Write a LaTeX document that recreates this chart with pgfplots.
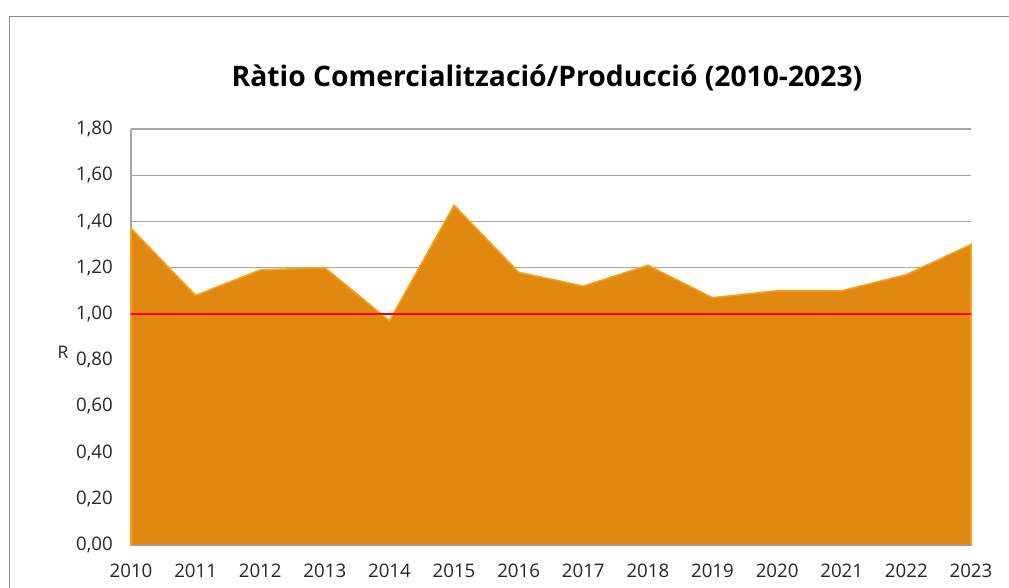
\documentclass[border=0pt]{standalone}
\usepackage{fontspec}
\setmainfont{Open Sans}
\usepackage{pgfplots}
\pgfplotsset{compat=1.18}
\definecolor{areaor}{HTML}{E0880F}
\definecolor{edgeor}{HTML}{F7A21C}
\definecolor{gridg}{HTML}{A6A6A6}
\definecolor{frameg}{HTML}{8C8C8C}
\definecolor{txt}{HTML}{262626}
\begin{document}
\begin{tikzpicture}[x=0.75pt,y=0.75pt]
\useasboundingbox (0,0) rectangle (1009,588);
\draw[frameg, line width=0.9pt] (9.5,-5) -- (9.5,571.5) -- (1015,571.5);
\node[font=\fontsize{21.2}{25}\selectfont\bfseries, text=black] at (547,510) {Ràtio Comercialització/Producció (2010-2023)};
\node[font=\fontsize{13}{15}\selectfont, text=txt] at (63,236) {R};
\begin{axis}[
  at={(98.25pt,32.25pt)}, anchor=south west,
  scale only axis, width=630pt, height=312pt,
  xmin=2010, xmax=2023, ymin=0, ymax=1.8,
  axis x line=bottom, axis y line=left,
  axis line style={-, gridg, line width=0.8pt},
  xtick={2010,...,2023},
  ytick={0,0.2,...,1.81},
  major tick length=0pt,
  ymajorgrids, grid style={gridg, line width=0.8pt},
  tick label style={font=\fontsize{14}{16}\selectfont, text=txt},
  /pgf/number format/assume math mode=true,
  xticklabel style={/pgf/number format/1000 sep={}, anchor=north, inner sep=0pt, yshift=-14pt},
  yticklabel style={/pgf/number format/.cd, use comma, fixed, fixed zerofill, precision=2, /tikz/.cd, anchor=east, inner sep=0pt, xshift=-13.5pt},
  clip=false,
  axis on top=false,
]
\addplot[fill=areaor, draw=edgeor, line width=1.2pt] coordinates {
(2010,1.37) (2011,1.08) (2012,1.19) (2013,1.20) (2014,0.97) (2015,1.47) (2016,1.18)
(2017,1.12) (2018,1.21) (2019,1.07) (2020,1.10) (2021,1.10) (2022,1.17) (2023,1.30)
} \closedcycle;
\addplot[red, line width=1.1pt] coordinates {(2010,1) (2023,1)};
\draw[gridg!70!brown, line width=1pt] (axis cs:2010,0) -- (axis cs:2023,0);
\end{axis}
\end{tikzpicture}
\end{document}
